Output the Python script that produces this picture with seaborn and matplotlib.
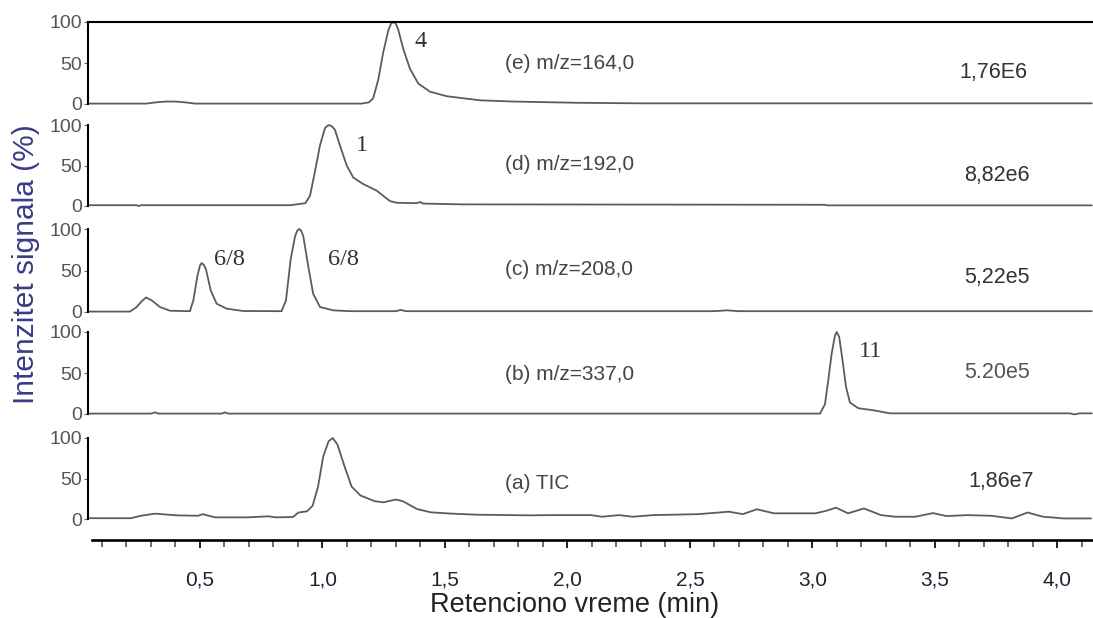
import pandas as pd
import matplotlib
matplotlib.use("Agg")
import matplotlib.pyplot as plt
from matplotlib.ticker import MultipleLocator
import seaborn as sns

# (e) m/z=164,0
e_time = [0.05, 0.28, 0.32, 0.36, 0.40, 0.44, 0.48, 1.16, 1.19, 1.207, 1.228, 1.248,
          1.269, 1.280, 1.289, 1.299, 1.309, 1.330, 1.357, 1.391, 1.439, 1.507, 1.643,
          1.778, 2.038, 2.30, 4.14]
e_signal = [0.5, 0.5, 2, 3, 3, 2, 0.5, 0.5, 2, 7, 30, 63,
            90, 98, 100, 98, 91, 67, 43, 25, 15, 9.5, 4.5,
            3, 1.5, 0.8, 0.8]

# (d) m/z=192,0
d_time = [0.05, 0.24, 0.25, 0.26, 0.87, 0.93, 0.949, 0.969, 0.99, 1.01, 1.02, 1.028,
          1.04, 1.051, 1.071, 1.099, 1.126, 1.167, 1.221, 1.276, 1.303, 1.384, 1.40,
          1.41, 1.573, 3.05, 3.06, 4.14]
d_signal = [1, 1, 0, 1, 1, 3.5, 12.5, 42, 75, 96, 99, 100,
            98, 94, 75, 50, 35, 27, 19, 6, 4, 3.5, 5,
            3, 2, 1.5, 0.8, 0.8]

# (c) m/z=208,0
c_time = [0.05, 0.214, 0.242, 0.262, 0.28, 0.303, 0.337, 0.378, 0.459, 0.473, 0.489,
          0.50, 0.507, 0.515, 0.524, 0.544, 0.568, 0.609, 0.677, 0.833, 0.851, 0.870,
          0.888, 0.897, 0.905, 0.913, 0.922, 0.942, 0.962, 0.99, 1.044, 1.112, 1.30,
          1.32, 1.34, 2.60, 2.65, 2.70, 4.14]
c_signal = [0.5, 0.5, 6, 13, 17.5, 14, 6, 1.5, 1, 14, 42.5,
            56, 59, 57, 52, 26, 10, 4, 1.2, 1, 14, 63,
            91, 98, 100, 98, 91, 55, 22, 6, 2, 1, 1,
            2.5, 1, 1, 2, 1, 1]

# (b) m/z=337,0
b_time = [0.05, 0.30, 0.316, 0.33, 0.59, 0.602, 0.615, 3.031, 3.051, 3.064, 3.078,
          3.092, 3.099, 3.109, 3.123, 3.137, 3.153, 3.187, 3.248, 3.316, 4.05, 4.07,
          4.09, 4.14]
b_signal = [0.5, 0.5, 2, 0.5, 0.5, 2, 0.5, 0.5, 12, 40, 73,
            96, 100, 94, 65, 33, 14, 7, 4.6, 0.8, 0.8, -0.5,
            0.8, 0.8]

# (a) TIC
a_time = [0.05, 0.218, 0.259, 0.316, 0.406, 0.492, 0.512, 0.535, 0.563, 0.692,
          0.780, 0.809, 0.880, 0.902, 0.937, 0.960, 0.982, 1.003, 1.025, 1.042,
          1.061, 1.090, 1.119, 1.155, 1.213, 1.249, 1.299, 1.328, 1.386, 1.443,
          1.529, 1.631, 1.847, 1.929, 2.096, 2.141, 2.210, 2.267, 2.349, 2.533,
          2.659, 2.716, 2.773, 2.843, 3.012, 3.055, 3.096, 3.145, 3.210, 3.280,
          3.337, 3.420, 3.492, 3.547, 3.631, 3.729, 3.814, 3.878, 3.941, 4.027,
          4.137]
a_signal = [1, 1, 4, 6.6, 4.5, 4, 6, 4, 2, 2,
            3.3, 2, 2.5, 8, 9.5, 16.5, 40, 77, 96, 100,
            92, 65, 40, 29, 22, 20.6, 24, 22, 12.3, 8.2,
            6.6, 5.3, 4.5, 4.8, 4.8, 2.8, 4.8, 2.8, 4.8, 6,
            9, 6, 12, 7, 7, 10, 14, 7, 13, 4.8,
            2.8, 2.8, 7.3, 3.6, 4.8, 4, 0.7, 8, 2.8, 0.7,
            0.7]

panel_names = ["(e) m/z=164,0", "(d) m/z=192,0", "(c) m/z=208,0", "(b) m/z=337,0", "(a) TIC"]
panel_scales = ["1,76E6", "8,82e6", "5,22e5", "5.20e5", "1,86e7"]
peak_names = [["4"], ["1"], ["6/8", "6/8"], ["11"], []]
x_ticks = [0.5, 1.0, 1.5, 2.0, 2.5, 3.0, 3.5, 4.0]
x_ticklabels = ["0,5", "1,0", "1,5", "2,0", "2,5", "3,0", "3,5", "4,0"]
y_ticks = [0, 50, 100]
y_ticklabels = ["0", "50", "100"]

traces = [(e_time, e_signal), (d_time, d_signal), (c_time, c_signal),
          (b_time, b_signal), (a_time, a_signal)]

# layout (pixels in the 1093x618 picture): y of the 100 line and the 0 line
W, H = 1093, 618
panel_px = [(22, 104), (125, 206), (229, 312), (332, 414), (438, 519)]
left_px = 88
xmin, xmax = 0.043, 4.145
peak_pos = [[(1.402, 76)], [(1.159, 75)], [(0.622, 63), (1.084, 63)], [(3.235, 76)], []]
name_y = [49, 51, 51, 48, 44]
scale_pos = [(3.60, 39), (3.62, 38), (3.62, 41), (3.62, 50), (3.635, 46)]

sns.set_style("white")
plt.rcParams["font.family"] = ["Liberation Sans", "DejaVu Sans"]

fig = plt.figure(figsize=(W / 100, H / 100), dpi=100)

line_color = "#5c5c5c"
for i, (t, s) in enumerate(traces):
    top, bot = panel_px[i]
    ax = fig.add_axes([left_px / W, (H - bot) / H, 1 - left_px / W, (bot - top) / H])
    df = pd.DataFrame({"time": t, "signal": s})
    sns.lineplot(data=df, x="time", y="signal", ax=ax, color=line_color,
                 linewidth=1.3, clip_on=False)
    ax.set_xlim(xmin, xmax)
    ax.set_ylim(0, 100)
    ax.set_xlabel("")
    ax.set_ylabel("")
    ax.set_facecolor("none")

    for side in ["right", "bottom", "top"]:
        ax.spines[side].set_visible(False)
    ax.spines["left"].set_color("black")
    ax.spines["left"].set_linewidth(1.5)
    if i == 0:
        ax.spines["top"].set_visible(True)
        ax.spines["top"].set_color("black")
        ax.spines["top"].set_linewidth(1.5)

    ax.set_yticks(y_ticks)
    ax.set_yticklabels(y_ticklabels)
    ax.tick_params(axis="y", direction="out", length=3, width=0.8, colors="#666666",
                   labelsize=14, pad=1, left=True)
    for lab in ax.get_yticklabels():
        lab.set_color("#555555")

    ax.text(xmin + (505 - left_px) / 245, name_y[i], panel_names[i], fontsize=15,
            color="#444444", va="center", ha="left")
    sx, sy = scale_pos[i]
    ax.text(sx, sy, panel_scales[i], fontsize=15.5, color="#333333" if i != 3 else "#555555",
            va="center", ha="left")
    for name, (px, py) in zip(peak_names[i], peak_pos[i]):
        ax.text(px, py, name, fontsize=17.5, color="#333333", va="center", ha="center",
                family="Liberation Serif")

    if i < 4:
        ax.set_xticks([])
    else:
        ax.spines["bottom"].set_visible(True)
        ax.spines["bottom"].set_position(("outward", 15))
        ax.spines["bottom"].set_color("black")
        ax.spines["bottom"].set_linewidth(1.9)
        ax.spines["bottom"].set_bounds(0.06, xmax)
        ax.set_xticks(x_ticks)
        ax.set_xticklabels(x_ticklabels)
        ax.xaxis.set_minor_locator(MultipleLocator(0.1))
        ax.tick_params(axis="x", which="major", direction="out", length=6, width=1.4,
                       colors="#222222", labelsize=15, pad=16, bottom=True)
        ax.tick_params(axis="x", which="minor", direction="out", length=5, width=1.1,
                       colors="#444444", bottom=True)
        for lab in ax.get_xticklabels():
            lab.set_color("#222233")

fig.text(26 / W, (H - 264) / H, "Intenzitet signala (%)", rotation=90, fontsize=21.5,
         color="#3b3a86", ha="center", va="center")
fig.text(575 / W, (H - 605) / H, "Retenciono vreme (min)", fontsize=19.5,
         color="#222222", ha="center", va="center")

fig.savefig("out.png", dpi=100)
